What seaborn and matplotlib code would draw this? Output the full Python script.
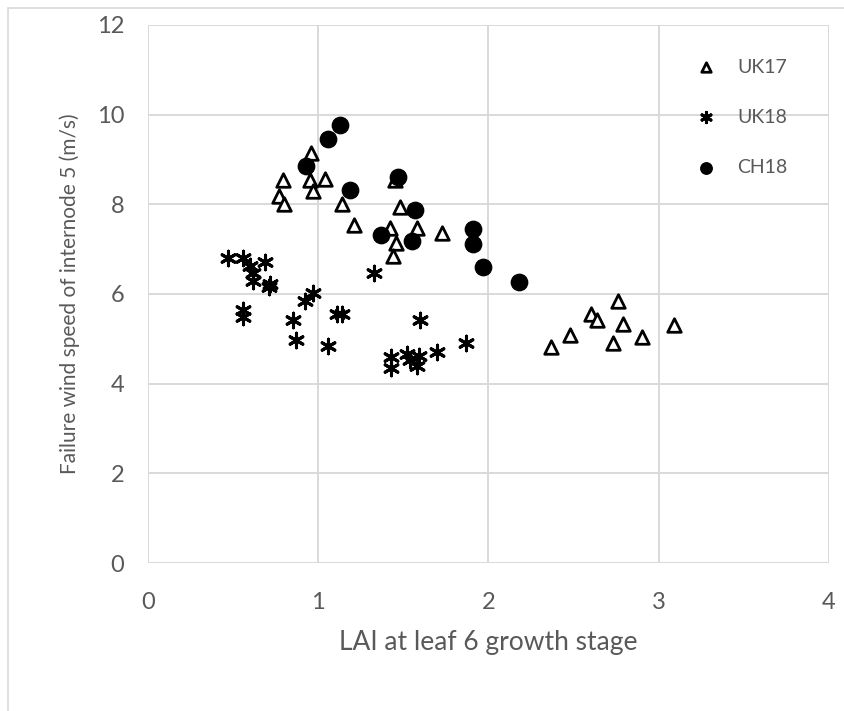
import numpy as np
import pandas as pd
import seaborn as sns
import matplotlib.pyplot as plt
from matplotlib.patches import Rectangle

#%% data
uk17_lai = [0.96, 0.795, 0.77, 0.80, 0.95, 1.04, 0.97, 1.14, 1.21, 1.45, 1.48, 1.42,
            1.58, 1.73, 1.46, 1.44, 2.37, 2.48, 2.60, 2.64, 2.76, 2.79, 2.73, 2.90, 3.09]
uk17_speed = [9.14, 8.55, 8.18, 8.0, 8.55, 8.57, 8.30, 8.0, 7.54, 8.54, 7.93, 7.48,
              7.48, 7.35, 7.13, 6.84, 4.81, 5.08, 5.56, 5.43, 5.84, 5.33, 4.90, 5.05, 5.31]

uk18_lai = [0.47, 0.56, 0.60, 0.69, 0.62, 0.62, 0.71, 0.72, 0.56, 0.56, 0.85, 0.87,
            0.92, 0.97, 1.11, 1.14, 1.06, 1.33, 1.60, 1.87, 1.70, 1.43, 1.43, 1.52,
            1.54, 1.59, 1.58]
uk18_speed = [6.80, 6.80, 6.62, 6.72, 6.46, 6.30, 6.15, 6.22, 5.64, 5.48, 5.42, 4.97,
              5.85, 6.03, 5.56, 5.56, 4.85, 6.46, 5.42, 4.91, 4.71, 4.59, 4.34, 4.66,
              4.53, 4.62, 4.39]

ch18_lai = [1.13, 1.06, 0.93, 1.47, 1.19, 1.57, 1.37, 1.55, 1.91, 1.91, 1.97, 2.18]
ch18_speed = [9.77, 9.45, 8.85, 8.61, 8.32, 7.87, 7.31, 7.19, 7.45, 7.11, 6.61, 6.27]

x_ticks = [0, 1, 2, 3, 4]
y_ticks = [0, 2, 4, 6, 8, 10, 12]

#%% plot
sns.set_style('white')
plt.rcParams['font.family'] = ['Lato', 'DejaVu Sans']
grey_txt = '#595959'
grid_col = '#d9d9d9'

fig = plt.figure(figsize=(8.45, 7.11), dpi=100)
ax = fig.add_axes([0.175, 0.208, 0.806, 0.757])

# outer chart border
fig.patches.append(Rectangle((8 / 845, -0.1), 1.2, 1 - 8 / 711 + 0.1,
                             transform=fig.transFigure, fill=False,
                             edgecolor=grid_col, linewidth=1.2))

sns.scatterplot(x=uk17_lai, y=uk17_speed, marker='^', s=95, facecolor='white',
                edgecolor='black', linewidth=2, label='UK17', ax=ax, zorder=3)
sns.scatterplot(x=uk18_lai, y=uk18_speed, marker=(6, 2, 0), s=110, color='black',
                linewidth=2.2, label='UK18', ax=ax, zorder=3)
sns.scatterplot(x=ch18_lai, y=ch18_speed, marker='o', s=140, color='black',
                edgecolor='black', label='CH18', ax=ax, zorder=3)

ax.set_xlim(0, 4)
ax.set_ylim(0, 12)
ax.set_xticks(x_ticks)
ax.set_yticks(y_ticks)
ax.grid(True, color=grid_col, linewidth=1.4)
ax.set_axisbelow(True)
for s in ax.spines.values():
    s.set_visible(False)
ax.tick_params(length=0, labelsize=17, colors=grey_txt)
ax.tick_params(axis='x', pad=21)
ax.tick_params(axis='y', pad=17)
ax.set_xlabel('LAI at leaf 6 growth stage', fontsize=19, color=grey_txt, labelpad=12)
ax.set_ylabel('Failure wind speed of internode 5 (m/s)', fontsize=15, color=grey_txt, labelpad=12)

leg = ax.legend(loc='upper right', frameon=False, fontsize=14, labelspacing=1.7,
                handletextpad=0.6, markerscale=0.7, bbox_to_anchor=(0.965, 0.97))
for t in leg.get_texts():
    t.set_color(grey_txt)

fig.savefig('out.png', dpi=100)
